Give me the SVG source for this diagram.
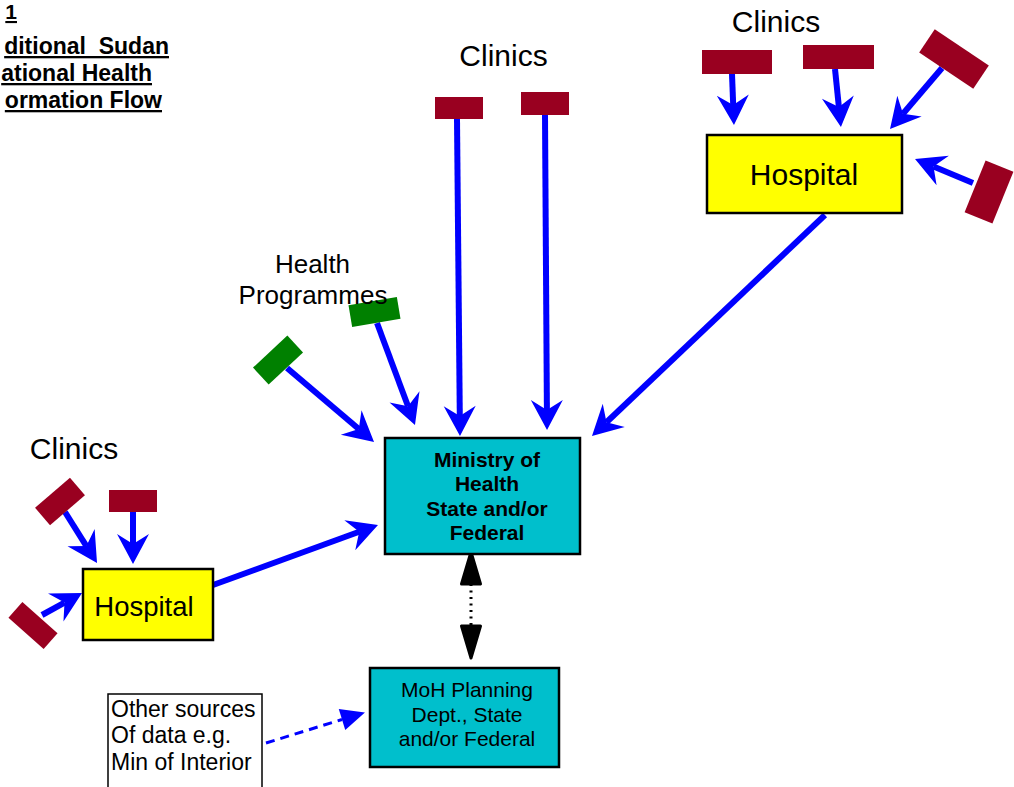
<svg xmlns="http://www.w3.org/2000/svg" width="1014" height="787" viewBox="0 0 1014 787">
<style>
text{font-family:"Liberation Sans",Arial,sans-serif;fill:#000}
.title{font-weight:bold;font-size:23px;text-decoration:underline}
.lbl{font-size:30px;text-anchor:middle}
.box{stroke:#000;stroke-width:2.5}
.hosp{fill:#FFFF00}
.teal{fill:#00BFCC}
.clinic{fill:#990020}
.prog{fill:#008000}
.flow{stroke:#0000FF;stroke-width:6;fill:none;marker-end:url(#barb)}
</style>
<defs>
<marker id="barb" markerUnits="userSpaceOnUse" markerWidth="30" markerHeight="32" viewBox="0 0 30 32" refX="10" refY="16" orient="auto" overflow="visible">
<path d="M0,0 L30,16 L0,32 L10,16 Z" fill="#0000FF"/>
</marker>
<marker id="blk" markerUnits="userSpaceOnUse" markerWidth="38" markerHeight="26" viewBox="0 0 38 26" refX="2" refY="13" orient="auto-start-reverse" overflow="visible">
<path d="M2,3.5 L34,13 L2,22.5 Z" fill="#000" stroke="#000" stroke-width="3" stroke-linejoin="round"/>
</marker>
<marker id="tri" markerUnits="userSpaceOnUse" markerWidth="24" markerHeight="22" viewBox="0 0 24 22" refX="0" refY="11" orient="auto" overflow="visible">
<path d="M0,0 L24,11 L0,22 Z" fill="#0000FF"/>
</marker>
</defs>

<g id="title">
<text class="title" style="font-size:21px" x="17" y="19" text-anchor="end">1</text>
<text class="title" x="169" y="54" text-anchor="end" xml:space="preserve">ditional  Sudan</text>
<text class="title" x="152" y="81" text-anchor="end">ational Health</text>
<text class="title" x="162" y="108" text-anchor="end">ormation Flow</text>
</g>

<g id="connectors">
<line class="flow" x1="457" y1="119" x2="459.8" y2="416"/>
<line class="flow" x1="545" y1="115" x2="546.9" y2="410"/>
<line class="flow" x1="825" y1="215" x2="606.5" y2="422.2"/>
<line class="flow" x1="287" y1="368" x2="358.8" y2="429"/>
<line class="flow" x1="377" y1="323" x2="408" y2="406.3"/>
<line class="flow" x1="732" y1="74" x2="733.2" y2="105"/>
<line class="flow" x1="835" y1="69" x2="838.9" y2="107.1"/>
<line class="flow" x1="942" y1="68" x2="903" y2="113.8"/>
<line class="flow" x1="973" y1="183" x2="933.5" y2="166.6"/>
<line class="flow" x1="65" y1="512" x2="86.4" y2="546.1"/>
<line class="flow" x1="133" y1="512" x2="133" y2="544"/>
<line class="flow" x1="42" y1="615" x2="64.5" y2="602.6"/>
<line class="flow" x1="213" y1="585" x2="359.2" y2="531.8"/>
<line x1="471" y1="584" x2="471" y2="626" stroke="#000" stroke-width="3" stroke-dasharray="2 4.5" marker-start="url(#blk)" marker-end="url(#blk)"/>
<line x1="266" y1="743" x2="342" y2="719.5" stroke="#0000FF" stroke-width="3" stroke-dasharray="9 6" marker-end="url(#tri)"/>
</g>

<g id="clinic-mid-1"><rect class="clinic" x="435" y="97" width="48" height="22"/></g>
<g id="clinic-mid-2"><rect class="clinic" x="521" y="92" width="48" height="23"/></g>
<g id="clinic-tr-a"><rect class="clinic" x="702" y="50" width="70" height="24"/></g>
<g id="clinic-tr-b"><rect class="clinic" x="803" y="45" width="71" height="24"/></g>
<g id="clinic-tr-c"><rect class="clinic" x="-32.5" y="-14" width="65" height="28" transform="translate(954,59) rotate(33.7)"/></g>
<g id="clinic-tr-d"><rect class="clinic" x="-15" y="-28" width="30" height="56" transform="translate(989,192) rotate(22)"/></g>
<g id="clinic-l-e"><rect class="clinic" x="-23" y="-11.5" width="46" height="23" transform="translate(60,501.5) rotate(-40.6)"/></g>
<g id="clinic-l-f"><rect class="clinic" x="109" y="490" width="48" height="22"/></g>
<g id="clinic-l-g"><rect class="clinic" x="-23.5" y="-10.5" width="47" height="21" transform="translate(33,625.5) rotate(41.5)"/></g>
<g id="prog-1"><rect class="prog" x="-23.5" y="-11.5" width="47" height="23" transform="translate(278,360) rotate(-43)"/></g>
<g id="prog-2"><rect class="prog" x="-24.5" y="-11" width="49" height="22" transform="translate(374.5,312) rotate(-9.5)"/></g>

<g id="label-clinics-tr"><text class="lbl" x="776" y="32">Clinics</text></g>
<g id="label-clinics-mid"><text class="lbl" x="503.5" y="66">Clinics</text></g>
<g id="label-clinics-left"><text class="lbl" x="74" y="459">Clinics</text></g>
<g id="label-programmes"><text class="lbl" style="font-size:26px" x="312.5" y="273">Health</text><text class="lbl" style="font-size:26px" x="313" y="304">Programmes</text></g>

<g id="hospital-tr">
<rect class="box hosp" x="707" y="135" width="195" height="78"/>
<text class="lbl" x="804" y="185">Hospital</text>
</g>
<g id="hospital-left">
<rect class="box hosp" x="83" y="569" width="130" height="71"/>
<text class="lbl" style="font-size:27.5px" x="144" y="616">Hospital</text>
</g>
<g id="ministry">
<rect class="box teal" x="385" y="438" width="195" height="116"/>
<text x="487" y="466.5" text-anchor="middle" font-weight="bold" font-size="21">Ministry of</text>
<text x="487" y="491" text-anchor="middle" font-weight="bold" font-size="21">Health</text>
<text x="487" y="515.5" text-anchor="middle" font-weight="bold" font-size="21">State and/or</text>
<text x="487" y="540" text-anchor="middle" font-weight="bold" font-size="21">Federal</text>
</g>
<g id="planning">
<rect class="box teal" x="370" y="668" width="189" height="99"/>
<text x="467" y="697" text-anchor="middle" font-size="21">MoH Planning</text>
<text x="467" y="722" text-anchor="middle" font-size="21">Dept., State</text>
<text x="467" y="746" text-anchor="middle" font-size="21">and/or Federal</text>
</g>
<g id="other-sources">
<rect x="108" y="694" width="154" height="100" fill="#fff" stroke="#000" stroke-width="1.5"/>
<text x="111" y="717" font-size="23">Other sources</text>
<text x="111" y="743" font-size="23">Of data e.g.</text>
<text x="111" y="770" font-size="23">Min of Interior</text>
</g>
</svg>
